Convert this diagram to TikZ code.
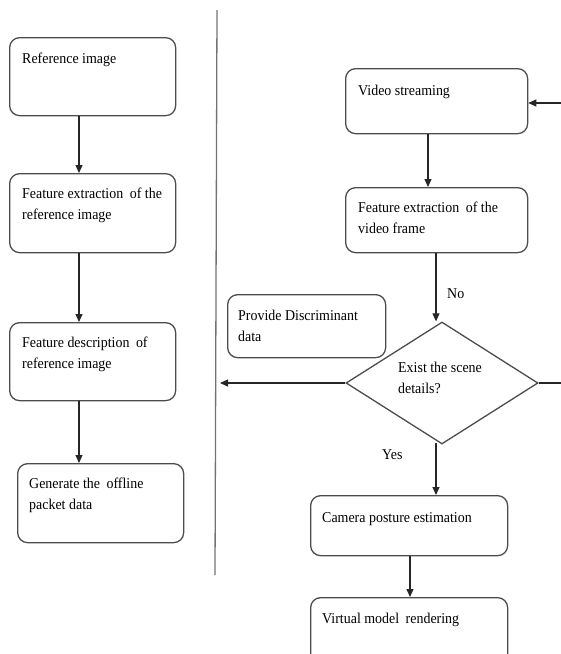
\documentclass[tikz,border=0pt]{standalone}
\usepackage{fontspec}
\setmainfont{Liberation Serif}[FakeStretch=0.93]
\usetikzlibrary{arrows.meta,shapes.geometric}
\newcommand\twoln[2]{\vtop{\baselineskip=21pt\hbox{#1}\hbox{#2}}}
\begin{document}
\begin{tikzpicture}[x=1pt,y=-1pt,
 box/.style={draw=black!70,line width=1.3pt,rounded corners=10pt,anchor=north west,inner sep=0pt},
 txt/.style={anchor=base west,inner sep=0pt,font=\fontsize{15}{21}\selectfont},
 arr/.style={draw=black!85,line width=1.1pt,-{Triangle[length=8pt,width=7pt]}},
 ln/.style={draw=black!85,line width=1.1pt}]
\useasboundingbox (0,0) rectangle (561,654);

% divider
\coordinate (divtop) at (217,10);
\coordinate (divbot) at (215,575);
\draw[draw=black!55,line width=1.3pt] (divtop) -- (divbot);

% left column
\node[box,minimum width=166pt,minimum height=78pt] (b1) at (9,37) {};
\node[txt] (t1) at (22,63) {Reference image};
\node[box,minimum width=166pt,minimum height=79pt] (b2) at (9,173) {};
\node[txt] (t2) at (22,198) {\twoln{Feature extraction\hspace{3pt} of the}{reference image}};
\node[box,minimum width=166pt,minimum height=78pt] (b3) at (9,322) {};
\node[txt] (t3) at (22,347) {\twoln{Feature description\hspace{3pt} of}{reference image}};
\node[box,minimum width=166pt,minimum height=79pt] (b4) at (17,463) {};
\node[txt] (t4) at (29,488) {\twoln{Generate the\hspace{3pt} offline}{packet data}};

\coordinate (a1) at ([xshift=70pt]b1.south west);
\coordinate (a2) at ([xshift=70pt]b2.south west);
\coordinate (a3) at ([xshift=70pt]b3.south west);
\draw[arr] (a1) -- (a1 |- b2.north);
\draw[arr] (a2) -- (a2 |- b3.north);
\draw[arr] (a3) -- (a3 |- b4.north);

% right column
\node[box,minimum width=182pt,minimum height=65pt] (v) at (345,68) {};
\node[txt] (tv) at (358,95) {Video streaming};
\node[box,minimum width=182pt,minimum height=65pt] (fv) at (345,187) {};
\node[txt] (tfv) at (358,212) {\twoln{Feature extraction\hspace{3pt} of the}{video frame}};
\node[box,minimum width=158pt,minimum height=63pt] (pd) at (227,294) {};
\node[txt] (tpd) at (238,320) {\twoln{Provide Discriminant}{data}};
\node[draw=black!70,line width=1.3pt,shape=diamond,minimum width=192pt,minimum height=122pt,inner sep=0pt] (d) at (442,383) {};
\node[txt] (td) at (398,372) {\twoln{Exist the scene}{details?}};
\node[box,minimum width=197pt,minimum height=60pt] (cam) at (310,495) {};
\node[txt] (tcam) at (322,522) {Camera posture estimation};
\node[box,minimum width=197pt,minimum height=70pt] (vm) at (310,597) {};
\node[txt] (tvm) at (322,623) {Virtual model\hspace{3pt} rendering};

\node[txt] (no) at (447,298) {No};
\node[txt] (yes) at (382,459) {Yes};

\coordinate (vin) at (561,103);
\draw[arr] (vin) -- (vin -| v.east);
\coordinate (c1) at ([xshift=83pt]v.south west);
\draw[arr] (c1) -- (c1 |- fv.north);
\coordinate (c2) at ([xshift=91pt]fv.south west);
\draw[arr] (c2) -- (c2 |- d.north);
\coordinate (c3) at ([xshift=-6pt,yshift=2pt]d.south);
\draw[arr] (c3) -- (c3 |- cam.north);
\coordinate (c4) at ([xshift=100pt]cam.south west);
\draw[arr] (c4) -- (c4 |- vm.north);
\coordinate (dl) at (220,383);
\draw[arr] (d.west) -- (dl);
\coordinate (dr) at (561,383);
\draw[ln] (d.east) -- (dr);
\end{tikzpicture}
\end{document}
